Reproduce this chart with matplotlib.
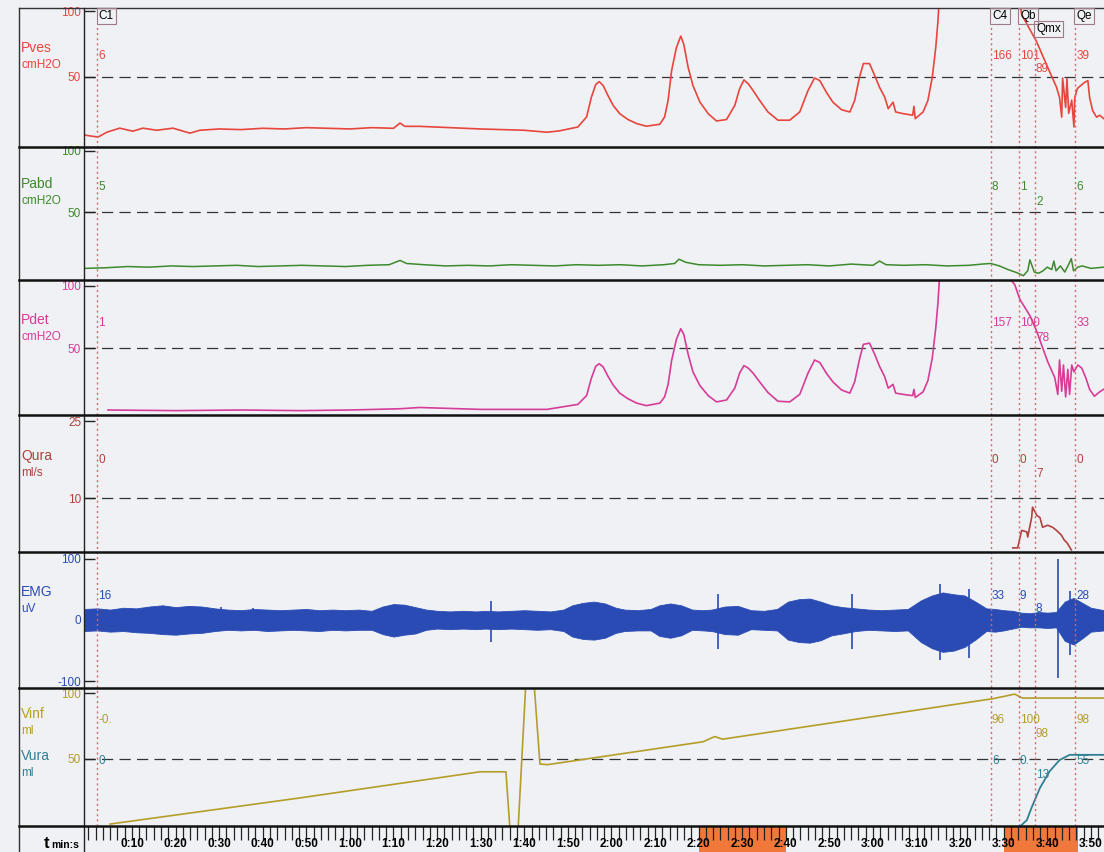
import numpy as np
import matplotlib
matplotlib.use("Agg")
import matplotlib.pyplot as plt
from matplotlib import transforms
from matplotlib.lines import Line2D

plt.rcParams['font.family'] = ['Liberation Sans', 'DejaVu Sans']

# ---- data (time in seconds) ----
event_names = ['C1', 'C4', 'Qb', 'Qmx', 'Qe']
event_t = [2.0, 207.0, 213.4, 217.1, 226.3]

pves_marks = ['6', '166', '101', '89', '39']
pabd_marks = ['5', '8', '1', '2', '6']
pdet_marks = ['1', '157', '100', '78', '33']
qura_marks = ['0', '0', '0', '7', '0']
emg_marks = ['16', '33', '9', '8', '28']
vinf_marks = ['-0.', '96', '100', '98', '98']
vura_marks = ['0', '6', '0.', '13', '55']

pves_t = [-1, -0.8, 2.2, 4.3, 7.2, 10.2, 12.5, 15.7, 19.4, 23.3, 25.6, 30, 35, 40, 45, 50, 55,
          60, 65, 70, 71.5, 72.6, 76, 83, 89.8, 95, 100, 105.2, 108,
          112.3, 114.3, 115.4, 116.4, 117.2, 118.1, 119.2, 120.4, 121.9, 123.8, 125.8, 128,
          131.1, 132.2, 133, 133.8, 134.9, 135.9, 136.6, 137.6, 138.7, 140.3, 142.2, 144.1,
          146.4, 148.3, 149.4, 150.4, 151.4, 152.5, 154, 155.9, 158.2, 160.9, 163.2, 165.1,
          166.6, 167.8, 169.3, 170.8, 172.8, 174.7, 175.8, 176.9, 177.8, 179.2, 180.4, 181.5,
          182.7, 183.5, 184.6, 185.2, 186.9, 189.1, 189.4, 189.7, 191.5, 192.6, 193.6, 194.4,
          194.9, 195.5, 205, 212.9,
          214.1, 217.5, 220.1, 222.1, 222.8, 223.3, 223.5, 224.2, 224.5, 224.9, 225.6, 226.1,
          226.3, 226.9, 228.5, 229.3, 229.7, 230.4, 231.3, 232.0, 232.9]
pves_v = [6, 5.3, 3.8, 7.6, 10.6, 8.3, 10.6, 9, 10.6, 6.8, 9, 10, 9.5, 10.5, 10, 11, 10.5,
          10, 11, 10.5, 14.5, 12, 12, 11, 10, 9.5, 9, 7.5, 8.5,
          11.5, 19.2, 34.3, 44, 46.2, 43.2, 35.6, 28, 21.7, 17.2, 14.1, 12.1,
          13.6, 19.2, 31.8, 54.5, 72.2, 81, 74.7, 57, 43.2, 30.5, 21.7, 16.1,
          17.2, 28, 40.7, 47.5, 44.5, 39.4, 31.8, 23, 16.7, 16.7, 23, 39.4,
          49, 47, 38.1, 30.5, 24.7, 23, 31.8, 49.5, 60, 60, 50.8, 41.9,
          34.3, 25.5, 30.5, 23, 21.7, 20.5, 27.3, 17.9, 23, 31.8, 49.5, 72.2,
          92.4, 125, 130, 125,
          97.5, 77, 57, 42, 34, 19, 49, 26.5, 48.5, 22, 32, 11.5,
          34, 41, 45.5, 47, 34, 24, 19, 20.5, 18]

pabd_t = [-1, 4, 9, 14, 19, 24, 29, 34, 39, 44, 49, 54, 59, 64, 69, 71.5, 73, 77, 82, 87, 92,
          97, 102, 107, 112, 117, 122, 127, 132, 134.5, 135.5, 137, 140, 145, 150, 155, 160, 165,
          170, 175, 180, 181.5, 183, 187, 192, 197, 202, 205, 207, 209, 211, 213, 214.5, 215.5,
          216, 217, 218, 219, 220, 221, 221.5, 222, 223, 224, 225, 225.5, 226, 227, 228, 230, 233]
pabd_v = [4, 4.5, 5.5, 5, 6, 5.5, 6, 6.5, 5.5, 6, 6.5, 6, 5.5, 6.5, 7, 10.5, 8, 7, 6, 6.5, 6, 7,
          6.5, 6, 7, 6.5, 7, 6, 7, 8, 11.5, 9, 7, 6.5, 7, 6, 6.5, 7, 6, 7.5, 6.5, 10, 7, 6.5, 7,
          6, 6.5, 7.5, 8, 6, 3, 0.5, -2, 2, 11, 1, 0, 2, 5, 3, 10, 2, 6, 1, 8, 12, 2, 5, 6, 4, 5]

pdet_t = [4.5, 20, 35, 48.5, 60, 71.5, 76.0, 89.8, 105.2,
          112.3, 114.3, 115.4, 116.4, 117.2, 118.1, 119.2, 120.4, 121.9, 123.8, 125.8, 128,
          131.1, 132.2, 133, 133.8, 134.9, 135.9, 136.6, 137.6, 138.7, 140.3, 142.2, 144.1,
          146.4, 148.3, 149.4, 150.4, 151.4, 152.5, 154, 155.9, 158.2, 160.9, 163.2, 165.1,
          166.6, 167.8, 169.3, 170.8, 172.8, 174.7, 175.8, 176.9, 177.8, 179.2, 180.4, 181.5,
          182.7, 183.5, 184.6, 185.2, 186.9, 189.1, 189.4, 189.7, 191.5, 192.6, 193.6, 194.4,
          194.9, 195.5, 205, 212.5, 213.7,
          216.0, 217.5, 220.1, 221.7, 222.4, 222.8, 223.3, 223.7, 224.2, 224.7, 225.1, 225.6,
          226.1, 227.0, 227.9, 228.8, 229.7, 230.8, 232.0, 232.9]
pdet_v = [0.5, 0, 0.5, 0, 0.5, 1.5, 2.5, 1, 1,
          5, 12, 26, 35.5, 37.5, 35, 27.5, 20.5, 14, 9.5, 6, 4,
          6, 11, 21, 40, 57, 65.5, 61, 45, 31, 20, 12, 7,
          8.5, 18, 30, 36, 34, 30, 23, 14.5, 7.5, 7, 13, 30,
          40.5, 38.5, 30, 23, 16.5, 14, 23, 41, 53, 54, 45, 35.5,
          27, 18, 21, 14, 13, 12, 17, 10.5, 15, 24, 42, 66,
          86, 120, 130, 101, 89,
          76, 64, 39, 26.5, 13, 40.5, 15.5, 36.5, 11, 33, 13, 36.5,
          31, 36.5, 34, 26.5, 17, 11.5, 15, 17]

qura_t = [212.1, 213.2, 214.1, 215.3, 215.5, 216.4, 216.6, 217.6, 218.3, 218.9, 220.1, 221.2,
          222.1, 223.2, 223.9, 224.6, 225.5]
qura_v = [0.4, 0.4, 3.8, 3.5, 2.5, 6.3, 8.3, 6.7, 6.3, 4.4, 4.8, 4.4, 3.8, 2.9, 1.9, 1.3, 0]

# EMG drawn as an amplitude envelope plus isolated spikes (uV)
emg_t = [-1, 2, 5, 8, 11, 14, 17, 20, 23, 26, 29, 32, 35, 38, 41, 44, 47, 50, 53, 56, 59, 62,
         65, 67.5, 70, 72.5, 75, 77.5, 80, 83, 86, 89, 91, 94, 97, 100, 103, 106, 109, 111,
         113.5, 116, 118.5, 121, 123, 126, 129, 131, 133.5, 136, 138.5, 141, 143, 146, 149, 152,
         155, 158, 160.5, 163, 165.5, 168, 170.5, 173, 176, 179, 182, 185, 188, 191, 193.5, 196,
         198.5, 201, 203.5, 206, 208, 210, 212, 214, 216, 218, 220, 222, 224, 226, 228, 230, 233]
emg_hi = [18, 19, 17, 20, 19,
          22, 24, 21, 23, 22, 19,
          17, 16, 18, 17, 16, 17, 18, 16, 17, 16, 17, 15,
          22, 26, 25, 21, 17,
          15, 14, 15, 14, 15, 14, 15, 16, 15, 14, 17,
          24, 28, 30, 27, 20,
          17, 16, 18,
          24, 27, 24,
          17, 16, 17,
          22, 23,
          16, 15, 18,
          30, 34, 35, 30, 24,
          21, 19,
          17, 16, 17, 18,
          32, 40, 45, 42, 40, 30,
          19, 18, 16, 15,
          12, 11, 13, 12, 13,
          30, 36, 28,
          20, 16]
emg_lo = [18, 17, 19, 18, 20,
          21, 23, 24, 22, 21, 18,
          16, 17, 16, 18, 17, 16, 17, 18, 16, 17, 16, 16,
          23, 27, 24, 22, 16,
          14, 15, 14, 15, 14, 15, 14, 15, 16, 15, 18,
          27, 31, 32, 29, 21,
          18, 17, 17,
          26, 29, 25,
          16, 17, 18,
          23, 24,
          15, 16, 17,
          32, 36, 37, 33, 25,
          22, 18,
          16, 17, 18, 17,
          36, 46, 52, 50, 44, 32,
          18, 19, 17, 14,
          11, 12, 12, 13, 12,
          34, 40, 30,
          19, 17]
spike_t = [30.4, 37.7, 92.3, 144.4, 175.1, 195.3, 202.0, 222.4, 225.1]
spike_hi = [22, 20, 31, 42, 42, 58, 51, 100, 47]
spike_lo = [-14, -15, -36, -47, -47, -66, -62, -95, -57]

vinf_t = [5, 48.5, 89.8, 95.8, 96.7, 98.6, 100.4, 102.2, 103.6, 105.4, 141, 143.7, 145.5,
          207.5, 212.5, 214.3, 233]
vinf_v = [0, 20, 40, 40, -3, -3, 110, 110, 46, 45.5, 63, 67, 65, 96, 99.5, 96.5, 96.5]

vura_t = [214.0, 215.3, 216.4, 218.3, 220.5, 222.8, 225.1, 233]
vura_v = [-1, 3, 12.7, 27.6, 40.3, 49, 53, 53]

orange_spans = [(140, 160), (210, 227)]
time_ticks = list(range(10, 231, 10))
time_labels = [f"{s // 60}:{s % 60:02d}" for s in time_ticks]

# ---- look ----
W, H = 1104, 852
BG = '#eff1f5'
T_MIN, T_MAX = -1, 233
C_PVES = '#e8453c'
C_PABD = '#3d8a2c'
C_PDET = '#d63c98'
C_QURA = '#b2403c'
C_EMG = '#2a4bb4'
C_VINF = '#b49e28'
C_VURA = '#2f8094'
C_EVT = '#d06a6a'

fig = plt.figure(figsize=(W / 100, H / 100), dpi=100, facecolor=BG)
XL = 84 / W
XB = 19 / W


def add_panel(top, bottom):
    ax = fig.add_axes([XL, 1 - bottom / H, 1 - XL, (bottom - top) / H])
    ax.set_facecolor('none')
    ax.set_xlim(T_MIN, T_MAX)
    for s in ax.spines.values():
        s.set_visible(False)
    ax.set_xticks([])
    return ax


def setup(ax, ylim, ticks, color, dash=None):
    ax.set_ylim(*ylim)
    ax.set_yticks(ticks)
    ax.set_yticklabels([str(v) for v in ticks])
    ax.tick_params(axis='y', direction='in', length=8, width=1, color='#222',
                   labelcolor=color, labelsize=8.5, pad=2)
    if dash is not None:
        ax.axhline(dash, color='#333', lw=0.9, ls=(0, (9, 5)), zorder=1)


def marks(ax, values, color, row, sub):
    tr = transforms.blended_transform_factory(ax.transData, ax.transAxes)
    for name, et, txt in zip(event_names, event_t, values):
        y = sub if name == 'Qmx' else row
        ax.text(et + 0.3, y, txt, transform=tr, color=color, fontsize=8.5,
                ha='left', va='center', clip_on=False, zorder=5)


def side_label(py, name, unit, color, gap=17):
    fig.text(21 / W, 1 - py / H, name, color=color, fontsize=10, va='center')
    fig.text(21 / W, 1 - (py + gap) / H, unit, color=color, fontsize=8.5, va='center')


# Pves
ax1 = add_panel(8, 147)
setup(ax1, (-3.8, 102.5), [100, 50], C_PVES, 50)
ax1.plot(pves_t, pves_v, color=C_PVES, lw=1.2, zorder=3)
marks(ax1, pves_marks, C_PVES, 0.655, 0.56)
side_label(48, 'Pves', 'cmH2O', C_PVES)

# Pabd
ax2 = add_panel(147, 280)
setup(ax2, (-5.5, 103.2), [100, 50], C_PABD, 50)
ax2.plot(pabd_t, pabd_v, color=C_PABD, lw=1.1, zorder=3)
marks(ax2, pabd_marks, C_PABD, 0.70, 0.59)
side_label(184, 'Pabd', 'cmH2O', C_PABD)

# Pdet
ax3 = add_panel(280, 415)
setup(ax3, (-3.5, 104.5), [100, 50], C_PDET, 50)
ax3.plot(pdet_t, pdet_v, color=C_PDET, lw=1.2, zorder=3)
marks(ax3, pdet_marks, C_PDET, 0.68, 0.57)
side_label(320, 'Pdet', 'cmH2O', C_PDET)

# Qura
ax4 = add_panel(415, 552)
setup(ax4, (-0.4, 26.2), [25, 10], C_QURA, 10)
ax4.plot(qura_t, qura_v, color=C_QURA, lw=1.2, zorder=3)
marks(ax4, qura_marks, C_QURA, 0.67, 0.57)
side_label(456, 'Qura', 'ml/s', C_QURA)

# EMG
ax5 = add_panel(552, 688)
setup(ax5, (-111, 111), [100, 0, -100], C_EMG)
ax5.fill_between(emg_t, emg_hi, [-v for v in emg_lo], color=C_EMG, lw=0.6, zorder=3)
ax5.vlines(spike_t, spike_lo, spike_hi, color=C_EMG, lw=1.2, zorder=3)
marks(ax5, emg_marks, C_EMG, 0.68, 0.58)
side_label(592, 'EMG', 'uV', C_EMG)

# Vinf / Vura
ax6 = add_panel(688, 826)
setup(ax6, (-1.5, 104.2), [100, 50], C_VINF, 50)
ax6.plot(vinf_t, vinf_v, color=C_VINF, lw=1.2, zorder=3)
ax6.plot(vura_t, vura_v, color=C_VURA, lw=1.3, zorder=3)
marks(ax6, vinf_marks, C_VINF, 0.77, 0.67)
marks(ax6, vura_marks, C_VURA, 0.47, 0.37)
side_label(714, 'Vinf', 'ml', C_VINF)
side_label(756, 'Vura', 'ml', C_VURA)

# time axis
axt = add_panel(826, 852)
axt.set_ylim(0, 1)
axt.set_yticks([])
for a, b in orange_spans:
    axt.axvspan(a, b, color='#f0783a', lw=0, zorder=0)
axt.set_xticks(time_ticks)
axt.set_xticks(np.arange(0, T_MAX, 10 / 6), minor=True)
axt.tick_params(axis='x', which='both', direction='in', top=True, bottom=False,
                labelbottom=False, length=10, width=0.9, color='#222')
for s, lab in zip(time_ticks, time_labels):
    axt.text(s, 0.3, lab, ha='center', va='center', fontsize=8.5, fontweight='bold')
fig.text(44 / W, 1 - 843 / H, 't', fontsize=12, fontweight='bold', va='center')
fig.text(51 / W, 1 - 845 / H, 'min:s', fontsize=7.5, fontweight='bold', va='center')

# event lines and boxes
tr = transforms.blended_transform_factory(ax1.transData, fig.transFigure)
for name, et in zip(event_names, event_t):
    low = name == 'Qmx'
    top_px = 38 if low else 24
    fig.add_artist(Line2D([et, et], [1 - 826 / H, 1 - top_px / H], transform=tr,
                          color=C_EVT, lw=1.0, ls=(0, (1.5, 2.2)), zorder=6))
    fig.text(et + 0.4, 1 - (29 if low else 16) / H, name, transform=tr, fontsize=8.5,
             ha='left', va='center', zorder=7,
             bbox=dict(boxstyle='square,pad=0.18', fc='none', ec='#a07a86', lw=0.8))

# frame lines
for py in [147, 280, 415, 552, 688, 826]:
    fig.add_artist(Line2D([XB, 1], [1 - py / H] * 2, color='#111', lw=1.8, zorder=8))
fig.add_artist(Line2D([XB, 1], [1 - 8 / H] * 2, color='#333', lw=1.0))
fig.add_artist(Line2D([XB] * 2, [0, 1 - 8 / H], color='#333', lw=1.0))
fig.add_artist(Line2D([XL] * 2, [0, 1 - 8 / H], color='#222', lw=1.0))

fig.savefig('out.png', dpi=100, facecolor=BG)
